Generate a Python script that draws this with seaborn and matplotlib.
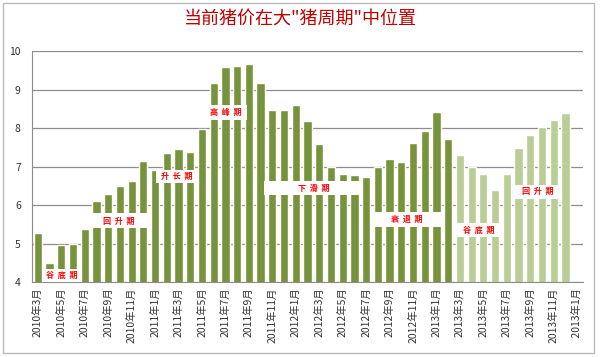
import pandas as pd
import matplotlib.pyplot as plt
import seaborn as sns
from matplotlib.patches import Rectangle

sns.set_style("white")
# 中文字体
plt.rcParams['font.family'] = ['Noto Sans CJK SC', 'DejaVu Sans']
plt.rcParams['axes.unicode_minus'] = False

# 月份（2010年3月 ~ 2013年12月，最后一个标签原图即为"2013年1月"且无数据）
months = [f"{y}年{m}月" for y in range(2010, 2014) for m in range(1, 13)][2:] + [" 2013年1月"]

# 历史猪价（深色）
price_hist = [5.26, 4.50, 4.96, 4.99, 5.37, 6.11, 6.29, 6.50, 6.63, 7.14,
              6.91, 7.36, 7.45, 7.38, 7.98, 9.16, 9.58, 9.62, 9.67, 9.16,
              8.46, 8.48, 8.60, 8.18, 7.59, 7.00, 6.81, 6.79, 6.72, 7.00,
              7.20, 7.12, 7.60, 7.91, 8.42, 7.72]
# 2013年3月以后（浅色）
price_new = [7.29, 6.99, 6.81, 6.38, 6.81, 7.49, 7.81, 8.02, 8.20, 8.40]

# 各阶段标注: 文字, x范围(类别序号), y范围
phase_names = ["谷  底  期", "回  升  期", "升  长  期", "高  峰  期",
               "下  滑  期", "衰  退  期", "谷  底  期", "回  升  期"]
phase_x = [(0.84, 4.3), (4.79, 10.08), (10.6, 14.1), (14.7, 18.3),
           (19.8, 28.2), (28.85, 35.0), (35.9, 40.3), (41.0, 45.2)]
phase_y = [(4.0, 4.33), (5.39, 5.78), (6.57, 6.91), (8.21, 8.6),
           (6.26, 6.62), (5.43, 5.82), (5.17, 5.53), (6.16, 6.52)]

n_hist = len(price_hist)
df = pd.DataFrame({
    'month': months[:n_hist + len(price_new)],
    'price': price_hist + price_new,
    'kind': ['hist'] * n_hist + ['new'] * len(price_new),
})

fig = plt.figure(figsize=(6, 3.57), dpi=100)
ax = fig.add_axes([0.0533, 0.2101, 0.9184, 0.6469])

sns.barplot(data=df, x='month', y='price', hue='kind', order=months,
            palette={'hist': '#77933C', 'new': '#B9CD94'}, dodge=False,
            width=0.7, legend=False, saturation=1, ax=ax, zorder=2)

ax.set_ylim(4, 10)
ax.set_yticks(range(4, 11))
ax.set_xlim(-0.5, len(months) - 0.5)
ax.yaxis.grid(True, color='#8C8C8C', linewidth=0.9, zorder=0)
ax.set_axisbelow(True)
ax.set_xlabel('')
ax.set_ylabel('')

# 每隔一个月显示标签
ax.set_xticks(range(0, len(months), 2))
ax.set_xticklabels(months[::2], rotation=90, fontsize=7.5, color='#333333')
ax.tick_params(axis='x', length=0, pad=4)
ax.tick_params(axis='y', length=0, pad=8, labelsize=7.5, labelcolor='#333333')

sns.despine(ax=ax, top=True, right=True)
ax.spines['left'].set_color('#8C8C8C')
ax.spines['bottom'].set_color('#8C8C8C')

# 阶段标注
for name, (x0, x1), (y0, y1) in zip(phase_names, phase_x, phase_y):
    ax.add_patch(Rectangle((x0 - 0.5, y0), x1 - x0, y1 - y0,
                           facecolor='white', edgecolor='none', zorder=3))
    ax.text((x0 + x1) / 2 - 0.5, (y0 + y1) / 2, name, color='red',
            fontsize=5.8, fontweight='bold', ha='center', va='center', zorder=4)

fig.text(0.5, 1 - 20 / 357, '当前猪价在大"猪周期"中位置', color='#C00000',
         fontsize=13, ha='center', va='center')

# 图表外框
fig.patches.append(Rectangle((0.005, 0.012), 0.985, 0.98, transform=fig.transFigure,
                             fill=False, edgecolor='#BBBBBB', linewidth=1))

plt.savefig('out.png', dpi=100)
plt.close()
